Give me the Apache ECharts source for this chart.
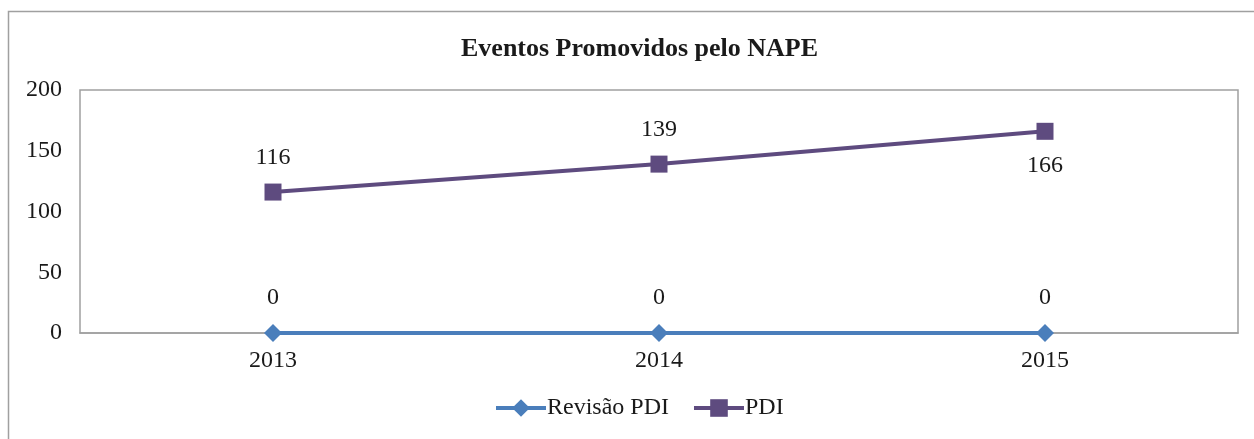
<!DOCTYPE html>
<html>
<head>
<meta charset="utf-8">
<script src="https://cdn.jsdelivr.net/npm/echarts@6/dist/echarts.min.js"></script>
<style>
  html, body { margin: 0; padding: 0; background: #fff; }
  #chart { width: 1254px; height: 439px; }
</style>
</head>
<body>
<div id="chart"></div>
<script>
// dados do gráfico
var anos = ['2013', '2014', '2015'];
var revisaoPdi = [0, 0, 0];
var pdi = [116, 139, 166];
var yTicks = [0, 50, 100, 150, 200];

var fonte = '"Liberation Serif", "Times New Roman", serif';

var myChart = echarts.init(document.getElementById('chart'));
var option = {
  animation: false,
  textStyle: { fontFamily: fonte },
  title: {
    text: 'Eventos Promovidos pelo NAPE',
    left: 456,
    top: 31,
    textStyle: {
      fontFamily: fonte,
      fontSize: 26,
      fontWeight: 'bold',
      color: '#1a1a1a'
    }
  },
  graphic: [{
    type: 'rect',
    shape: { x: 8.5, y: 11.5, width: 1270, height: 500 },
    style: { fill: 'none', stroke: '#a0a0a0', lineWidth: 1.5 },
    silent: true
  }],
  legend: {
    bottom: 14,
    left: 489,
    itemWidth: 50,
    itemHeight: 22,
    itemGap: 23,
    lineStyle: { width: 4 },
    textStyle: { fontFamily: fonte, fontSize: 24, color: '#1a1a1a', padding: [0, 0, 0, -4] },
    data: ['Revisão PDI', 'PDI']
  },
  grid: {
    left: 80,
    right: 16,
    top: 90,
    bottom: 106,
    show: true,
    borderColor: '#a0a0a0',
    borderWidth: 1.5,
    containLabel: false
  },
  xAxis: {
    type: 'category',
    data: anos,
    boundaryGap: true,
    axisLine: { show: true, lineStyle: { color: '#a0a0a0', width: 1.5 } },
    axisTick: { show: false },
    axisLabel: { fontFamily: fonte, fontSize: 24, color: '#1a1a1a', margin: 16 }
  },
  yAxis: {
    type: 'value',
    min: 0,
    max: yTicks[yTicks.length - 1],
    interval: 50,
    axisLine: { show: false },
    axisTick: { show: false },
    splitLine: { show: false },
    axisLabel: { fontFamily: fonte, fontSize: 24, color: '#1a1a1a', margin: 18 }
  },
  series: [
    {
      name: 'Revisão PDI',
      type: 'line',
      data: revisaoPdi,
      symbol: 'diamond',
      symbolSize: 18,
      z: 3,
      lineStyle: { color: '#4a7ebb', width: 4 },
      itemStyle: { color: '#4a7ebb' },
      label: {
        show: true,
        position: 'top',
        distance: 14,
        fontFamily: fonte,
        fontSize: 24,
        color: '#1a1a1a'
      }
    },
    {
      name: 'PDI',
      type: 'line',
      data: pdi.map(function (v, i) {
        return {
          value: v,
          label: { position: i === pdi.length - 1 ? 'bottom' : 'top' }
        };
      }),
      symbol: 'rect',
      symbolSize: 17,
      lineStyle: { color: '#5e4b7f', width: 4 },
      itemStyle: { color: '#5e4b7f' },
      label: {
        show: true,
        position: 'top',
        distance: 14,
        fontFamily: fonte,
        fontSize: 24,
        color: '#1a1a1a'
      }
    }
  ]
};
option && myChart.setOption(option);
</script>
</body>
</html>
